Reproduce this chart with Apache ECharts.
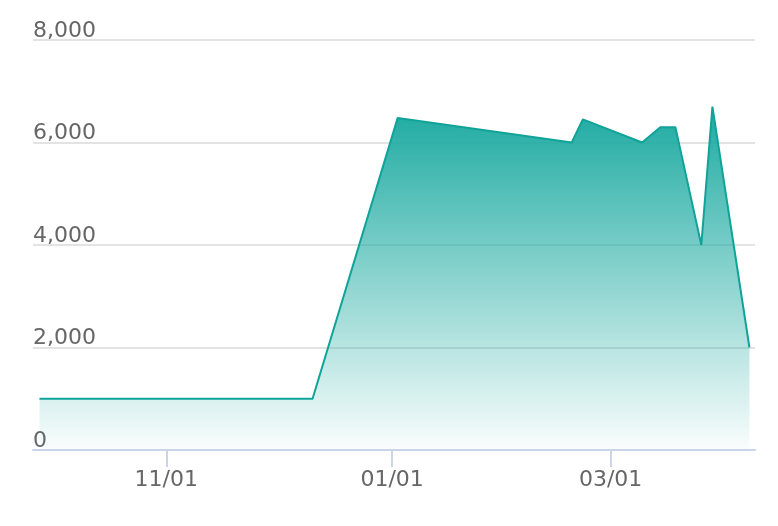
<!DOCTYPE html>
<html>
<head>
<meta charset="utf-8">
<script src="https://cdn.jsdelivr.net/npm/echarts@6/dist/echarts.min.js"></script>
<style>
  html, body { margin: 0; padding: 0; background: #fff; }
  #chart { width: 778px; height: 526px; }
</style>
</head>
<body>
<div id="chart"></div>
<script>
// values
const dates = [
  '2018-09-27T18:00', '2018-12-10T12:00', '2019-01-02T12:00', '2019-02-18T12:00', '2019-02-21T12:00',
  '2019-03-09T12:00', '2019-03-14T12:00', '2019-03-18T12:00', '2019-03-25T12:00', '2019-03-28T12:00', '2019-04-07T12:00'
]
const values = [1000, 1000, 6480, 6000, 6450, 6000, 6300, 6300, 4000, 6700, 2000]
const xTicks = ['2018-11-01T00:00', '2019-01-01T00:00', '2019-03-01T00:00']
const xMin = '2018-09-26T00:00'
const xMax = '2019-04-09T00:00'

const pad = (n) => String(n).padStart(2, '0')
const fmtDay = (v) => {
  const d = new Date(v)
  return `${pad(d.getMonth() + 1)}/${pad(d.getDate())}`
}
const ts = (s) => new Date(s).getTime()

const chart = echarts.init(document.getElementById('chart'))
const textColor = '#666'
const font = 'DejaVu Sans'

chart.setOption({
  animation: false,
  grid: { left: 33, right: 23, top: 40, bottom: 76 },
  xAxis: {
    // timestamps on a value axis so the three date ticks can be placed exactly
    type: 'value',
    min: ts(xMin),
    max: ts(xMax),
    axisLine: { lineStyle: { color: '#ccd5e8', width: 2 } },
    axisTick: {
      show: true,
      length: 17,
      customValues: xTicks.map(ts),
      lineStyle: { color: '#ccd5e8', width: 2 }
    },
    axisLabel: {
      customValues: xTicks.map(ts),
      formatter: (v) => fmtDay(v),
      color: textColor,
      fontSize: 22,
      fontFamily: font,
      margin: 19
    },
    splitLine: { show: false }
  },
  yAxis: {
    type: 'value',
    min: 0,
    max: 8000,
    interval: 2000,
    axisLine: { show: false },
    axisTick: { show: false },
    axisLabel: {
      inside: true,
      align: 'left',
      verticalAlign: 'bottom',
      margin: 0,
      lineHeight: 18,
      color: textColor,
      fontSize: 22,
      fontFamily: font,
      formatter: (v) => v.toLocaleString('en-US')
    },
    splitLine: { lineStyle: { color: '#e3e3e3', width: 2 } }
  },
  series: [{
    type: 'line',
    data: dates.map((d, i) => [ts(d), values[i]]),
    showSymbol: false,
    lineStyle: { color: '#10a399', width: 2 },
    itemStyle: { color: '#10a399' },
    areaStyle: {
      opacity: 1,
      color: new echarts.graphic.LinearGradient(0, 0, 0, 1, [
        { offset: 0, color: 'rgba(28, 170, 161, 1)' },
        { offset: 1, color: 'rgba(28, 170, 161, 0.02)' }
      ])
    }
  }]
})
</script>
</body>
</html>
